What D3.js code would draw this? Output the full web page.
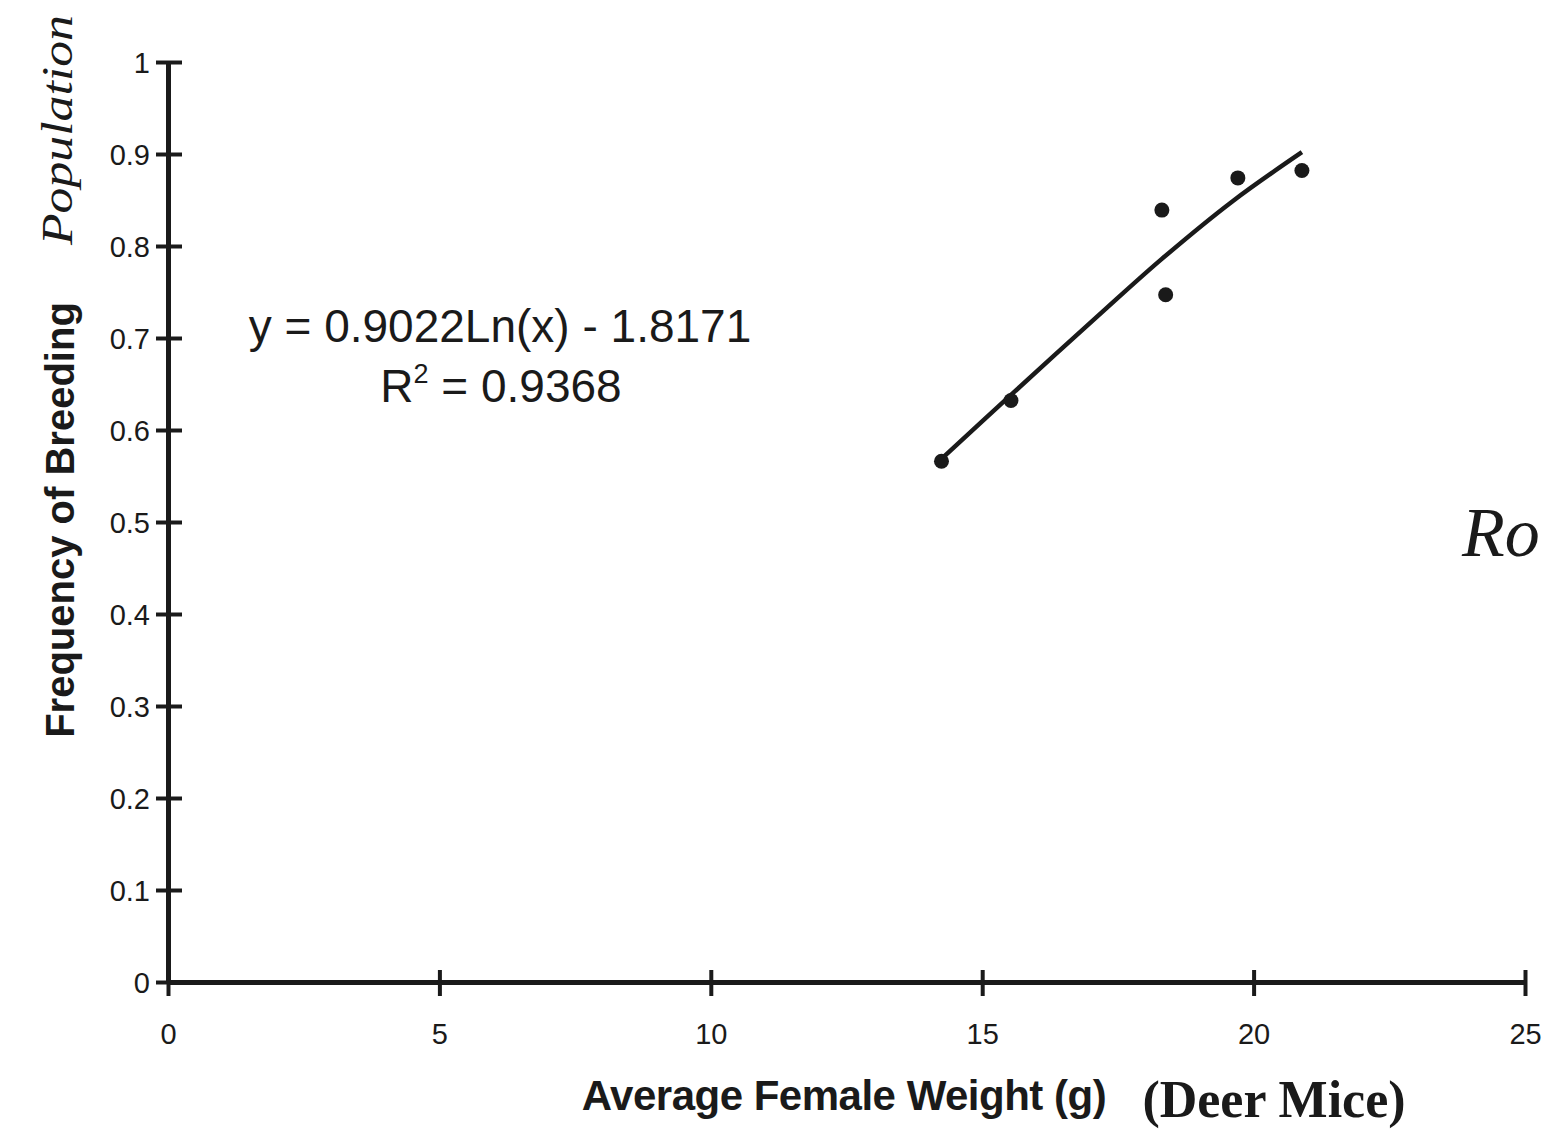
<!DOCTYPE html>
<html><head><meta charset="utf-8">
<script src="https://cdn.jsdelivr.net/npm/d3@7"></script>
<style>body{margin:0;background:#fff}svg{display:block}</style>
</head><body>
<script>
// Data
const weights = [14.25, 15.53, 18.31, 18.38, 19.71, 20.89];
const breeding = [0.566, 0.632, 0.839, 0.747, 0.874, 0.882];
const trendX = [14.22, 15.51, 17.30, 18.31, 19.62, 20.89];
const trendY = [0.567, 0.637, 0.733, 0.786, 0.849, 0.902];
const xTicks = [0, 5, 10, 15, 20, 25];
const yTicks = [0, 0.1, 0.2, 0.3, 0.4, 0.5, 0.6, 0.7, 0.8, 0.9, 1];
const equation = "y = 0.9022Ln(x) - 1.8171";
const rSquared = "0.9368";

const W = 1546, H = 1133, ink = "#1a1a1a";
const sans = "Liberation Sans, Arial, sans-serif";
const svg = d3.select("body").append("svg").attr("width", W).attr("height", H);
const x = d3.scaleLinear().domain([0, 25]).range([168, 1525]);
const y = d3.scaleLinear().domain([0, 1]).range([982, 62]);

// axes
const xAxis = d3.axisBottom(x).tickValues(xTicks).tickSize(0).tickFormat(d3.format("d"));
const gx = svg.append("g").attr("transform", `translate(0,${y(0)})`).call(xAxis);
gx.select(".domain").attr("stroke", ink).attr("stroke-width", 5);
gx.selectAll(".tick text").attr("fill", ink).attr("font-family", sans)
  .attr("font-size", 29).attr("dy", 0).attr("y", 62);
gx.selectAll(".tick").append("line").attr("y1", -12).attr("y2", 14).attr("stroke", ink).attr("stroke-width", 4);

const yAxis = d3.axisLeft(y).tickValues(yTicks).tickSize(0)
  .tickFormat(d => d === 0 || d === 1 ? d3.format("d")(d) : d3.format(".1f")(d));
const gy = svg.append("g").attr("transform", `translate(${x(0)},0)`).call(yAxis);
gy.select(".domain").attr("stroke", ink).attr("stroke-width", 5);
gy.selectAll(".tick text").attr("fill", ink).attr("font-family", sans)
  .attr("font-size", 29).attr("x", -18).attr("dy", "0.35em");
gy.selectAll(".tick").append("line").attr("x1", -12).attr("x2", 14).attr("stroke", ink).attr("stroke-width", 4);

// trendline
const pts = trendX.map((d, i) => [x(d), y(trendY[i])]);
svg.append("path").attr("d", d3.line().curve(d3.curveCatmullRom)(pts))
  .attr("fill", "none").attr("stroke", ink).attr("stroke-width", 4.5);

// points
svg.selectAll("circle.pt").data(weights).join("circle").attr("class", "pt")
  .attr("cx", d => x(d)).attr("cy", (d, i) => y(breeding[i])).attr("r", 7.5).attr("fill", ink);

// equation
const eq = svg.append("g").attr("font-family", sans).attr("fill", ink).attr("font-size", 46);
eq.append("text").attr("x", 500).attr("y", 342).attr("text-anchor", "middle").text(equation);
const r2 = eq.append("text").attr("x", 501).attr("y", 402).attr("text-anchor", "middle");
r2.append("tspan").text("R");
r2.append("tspan").attr("font-size", 27).attr("dy", -19).text("2");
r2.append("tspan").attr("dy", 19).text(" = " + rSquared);

// axis titles
svg.append("text").attr("transform", "translate(74,520) rotate(-90)").attr("text-anchor", "middle")
  .attr("font-family", sans).attr("font-weight", "bold").attr("font-size", 40)
  .attr("fill", ink).text("Frequency of Breeding");
svg.append("text").attr("x", 844).attr("y", 1110).attr("text-anchor", "middle")
  .attr("font-family", sans).attr("font-weight", "bold").attr("font-size", 42)
  .attr("fill", ink).attr("letter-spacing", -0.5).text("Average Female Weight (g)");
svg.append("text").attr("x", 1274).attr("y", 1117).attr("text-anchor", "middle")
  .attr("font-family", "Liberation Serif, Times New Roman, serif").attr("font-weight", "bold").attr("font-size", 52)
  .attr("fill", ink).text("(Deer Mice)");

// handwritten notes
svg.append("text").attr("transform", "translate(72,245) rotate(-90)")
  .attr("font-family", "Liberation Serif, serif").attr("font-style", "italic").attr("font-size", 44)
  .attr("fill", ink).attr("textLength", 230).attr("lengthAdjust", "spacingAndGlyphs").text("Population");
svg.append("text").attr("x", 1462).attr("y", 556)
  .attr("font-family", "Liberation Serif, serif").attr("font-style", "italic").attr("font-size", 70)
  .attr("fill", ink).text("Ro");
</script>
</body></html>
